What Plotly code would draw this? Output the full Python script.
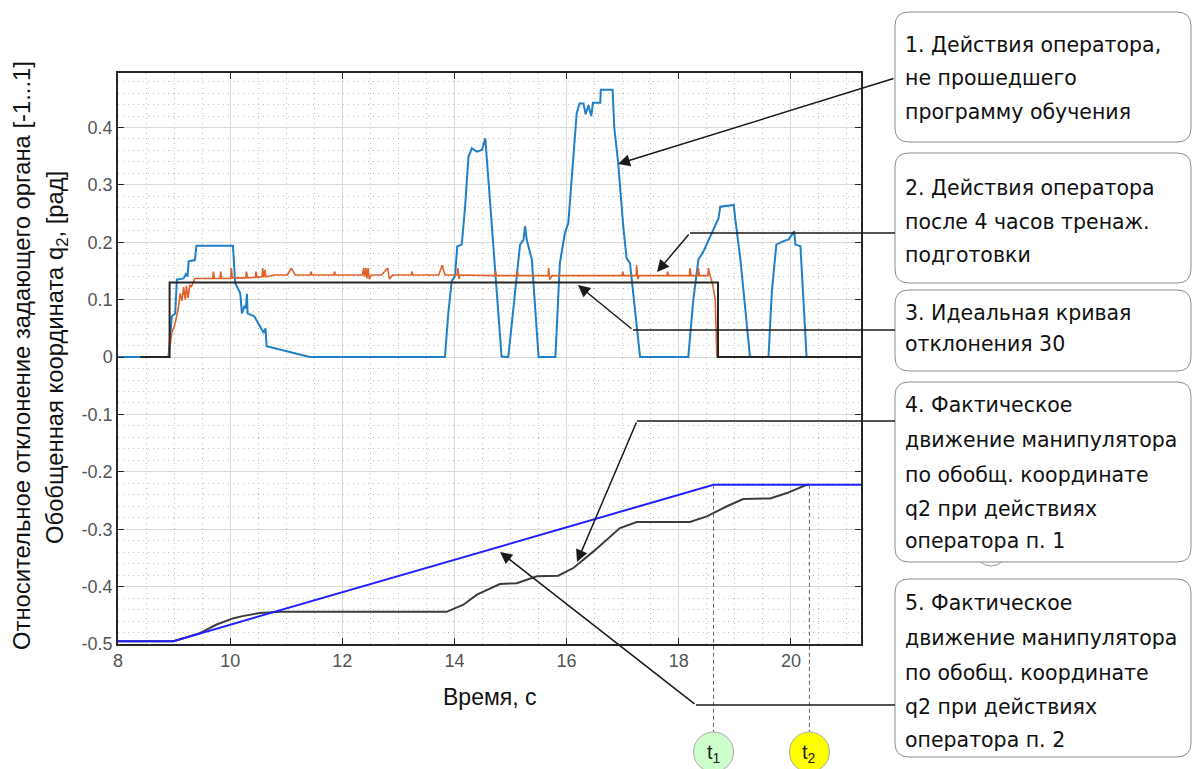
import plotly.graph_objects as go

# ---------------- data ----------------
# 1. operator without training (blue, upper)
t_op1 = [8.0, 8.90, 8.96, 9.02, 9.05, 9.17, 9.22, 9.24, 9.26, 9.37, 9.40, 10.05, 10.09, 10.18, 10.21,
         10.25, 10.28, 10.30, 10.31, 10.43, 10.60, 10.63, 10.65, 11.42, 13.83, 13.89, 13.95, 14.01,
         14.05, 14.13, 14.19, 14.25, 14.31, 14.40, 14.49, 14.55, 14.61, 14.70, 14.84, 14.96, 15.08,
         15.17, 15.23, 15.26, 15.29, 15.38, 15.50, 15.80, 15.88, 15.97, 16.03, 16.12, 16.18, 16.23,
         16.30, 16.34, 16.39, 16.44, 16.47, 16.60, 16.61, 16.82, 16.85, 16.92, 17.01, 17.07, 17.13,
         17.31, 18.17, 18.26, 18.35, 18.44, 18.62, 18.71, 18.74, 18.98, 19.01, 19.10, 19.27, 19.60,
         19.66, 19.74, 19.87, 19.96, 20.06, 20.08, 20.17, 20.28]
v_op1 = [0.0, 0.0, 0.071, 0.076, 0.135, 0.137, 0.146, 0.140, 0.167, 0.169, 0.194, 0.194, 0.129, 0.111, 0.076,
         0.088, 0.085, 0.110, 0.076, 0.071, 0.042, 0.050, 0.019, 0.0, 0.0, 0.076, 0.132, 0.141,
         0.193, 0.196, 0.262, 0.349, 0.364, 0.358, 0.361, 0.381, 0.303, 0.181, 0.001, 0.0, 0.117,
         0.196, 0.204, 0.228, 0.204, 0.170, 0.0, 0.0, 0.164, 0.216, 0.233, 0.355, 0.425, 0.442,
         0.442, 0.423, 0.439, 0.420, 0.443, 0.443, 0.466, 0.466, 0.400, 0.338, 0.228, 0.172, 0.164,
         0.0, 0.0, 0.100, 0.170, 0.184, 0.222, 0.242, 0.262, 0.265, 0.239, 0.170, 0.0, 0.0,
         0.114, 0.196, 0.202, 0.205, 0.219, 0.196, 0.193, 0.0]

# 2. operator after 4 hours of simulator training (orange)
t_op2 = [8.90, 8.96, 9.02, 9.08, 9.11, 9.14, 9.17, 9.20, 9.22, 9.25, 9.28, 9.31, 9.37, 9.69, 9.70, 9.72,
         9.82, 9.83, 9.85, 10.01, 10.02, 10.04, 10.28, 10.29, 10.31, 10.45, 10.46, 10.48, 10.57, 10.58,
         10.60, 10.62, 10.64, 10.80, 11.02, 11.09, 11.16, 11.43, 11.44, 11.46, 11.85, 11.86, 11.88,
         12.36, 12.38, 12.40, 12.42, 12.44, 12.46, 12.48, 12.52, 12.70, 12.81, 12.84, 12.90, 13.23,
         13.24, 13.26, 13.72, 13.78, 13.83, 14.05, 14.06, 14.08, 14.10, 14.72, 14.73, 14.75, 15.11,
         15.12, 15.14, 15.67, 15.68, 15.70, 15.74, 16.99, 17.00, 17.02, 17.24, 17.25, 17.27, 17.30,
         17.50, 17.79, 17.80, 17.82, 18.19, 18.20, 18.22, 18.34, 18.35, 18.37, 18.52, 18.53, 18.56,
         18.60, 18.65, 18.68, 18.72]
v_op2 = [0.0, 0.042, 0.059, 0.088, 0.111, 0.098, 0.122, 0.100, 0.124, 0.103, 0.125, 0.123, 0.137, 0.137, 0.149, 0.137,
         0.137, 0.149, 0.137, 0.137, 0.155, 0.138, 0.138, 0.149, 0.138, 0.139, 0.149, 0.139, 0.140, 0.155,
         0.139, 0.152, 0.140, 0.143, 0.143, 0.155, 0.143, 0.143, 0.149, 0.143, 0.143, 0.149, 0.143,
         0.143, 0.155, 0.140, 0.155, 0.137, 0.155, 0.136, 0.143, 0.143, 0.155, 0.136, 0.143, 0.143,
         0.149, 0.143, 0.143, 0.160, 0.143, 0.143, 0.155, 0.136, 0.143, 0.142, 0.149, 0.142, 0.142,
         0.149, 0.142, 0.142, 0.155, 0.135, 0.142, 0.142, 0.149, 0.142, 0.142, 0.160, 0.136, 0.142,
         0.142, 0.142, 0.149, 0.142, 0.142, 0.155, 0.142, 0.142, 0.155, 0.142, 0.142, 0.155, 0.141,
         0.129, 0.100, 0.0, 0.0]

# 3. ideal deflection curve (black step)
t_ideal = [8.40, 8.92, 8.92, 18.70, 18.70, 21.25]
v_ideal = [0.0, 0.0, 0.13, 0.13, 0.0, 0.0]

# 4. actual manipulator motion, operator 1 (dark grey)
t_q1 = [8.0, 8.99, 9.46, 9.76, 10.06, 10.24, 10.53, 10.89, 13.86, 14.16, 14.40, 14.64, 14.81, 15.11,
        15.47, 15.85, 16.12, 16.48, 16.95, 17.25, 18.20, 18.50, 18.86, 19.15, 19.63, 19.93, 20.28, 20.32]
v_q1 = [-0.495, -0.495, -0.481, -0.466, -0.455, -0.451, -0.446, -0.444, -0.444, -0.4315, -0.414, -0.4025,
        -0.3955, -0.394, -0.382, -0.381, -0.3676, -0.3386, -0.298, -0.2875, -0.2875, -0.2777, -0.260,
        -0.2474, -0.2463, -0.237, -0.2225, -0.2225]

# 5. actual manipulator motion, operator 2 (blue straight line)
t_q2 = [8.0, 8.99, 18.62, 21.25]
v_q2 = [-0.495, -0.495, -0.2225, -0.2225]

t_marks = [18.62, 20.33]
mark_labels = ["t<sub>1</sub>", "t<sub>2</sub>"]
mark_colors = ["#ccffcc", "#ffff00"]

x_ticks = [8, 10, 12, 14, 16, 18, 20]
x_ticklabels = ["8", "10", "12", "14", "16", "18", "20"]
y_ticks = [-0.5, -0.4, -0.3, -0.2, -0.1, 0, 0.1, 0.2, 0.3, 0.4]
y_ticklabels = ["-0.5", "-0.4", "-0.3", "-0.2", "-0.1", "0", "0.1", "0.2", "0.3", "0.4"]

box_texts = [
    ["1. Действия оператора,", "не прошедшего", "программу обучения"],
    ["2. Действия оператора", "после 4 часов тренаж.", "подготовки"],
    ["3. Идеальная кривая", "отклонения 30"],
    ["4. Фактическое", "движение манипулятора", "по обобщ. координате", "q2 при действиях", "оператора п. 1"],
    ["5. Фактическое", "движение манипулятора", "по обобщ. координате", "q2 при действиях", "оператора п. 2"],
]

# ---------------- layout geometry (pixels) ----------------
W_FIG, H_FIG = 1192, 769
PL, PR, PT, PB = 118, 861, 73, 644
X_RANGE = [8, 21.25]
Y_RANGE = [-0.5, 0.495]


def px(x):
    return (x - PL) / (PR - PL)


def py(y):
    return (PB - y) / (PB - PT)


def xdata_to_paper(t):
    return (t - X_RANGE[0]) / (X_RANGE[1] - X_RANGE[0])


def ydata_to_paper(v):
    return (v - Y_RANGE[0]) / (Y_RANGE[1] - Y_RANGE[0])


fig = go.Figure()
fig.add_trace(go.Scatter(x=t_q1, y=v_q1, mode="lines", line=dict(color="#3c3c3c", width=2), hoverinfo="skip"))
fig.add_trace(go.Scatter(x=t_q2, y=v_q2, mode="lines", line=dict(color="#1f1fff", width=2), hoverinfo="skip"))
fig.add_trace(go.Scatter(x=t_op1, y=v_op1, mode="lines", line=dict(color="#1f80c8", width=2), hoverinfo="skip"))
fig.add_trace(go.Scatter(x=t_op2, y=v_op2, mode="lines", line=dict(color="#e0622a", width=1.6), hoverinfo="skip"))
fig.add_trace(go.Scatter(x=t_ideal, y=v_ideal, mode="lines", line=dict(color="#262626", width=2), hoverinfo="skip"))

shapes = []
annotations = []

# dashed verticals for t1, t2 and circles
for t, lab, col in zip(t_marks, mark_labels, mark_colors):
    xp = xdata_to_paper(t)
    shapes.append(dict(type="line", xref="paper", yref="paper", x0=xp, x1=xp,
                       y0=ydata_to_paper(-0.2225), y1=py(732),
                       line=dict(color="#666666", width=1, dash="4px,3px")))
    xc = PL + xp * (PR - PL)
    shapes.append(dict(type="circle", xref="paper", yref="paper",
                       x0=px(xc - 20), x1=px(xc + 20), y0=py(772), y1=py(732),
                       fillcolor=col, line=dict(color="#aaaaaa", width=1)))
    annotations.append(dict(xref="paper", yref="paper", x=px(xc), y=py(753), text=lab, showarrow=False,
                            font=dict(family="Liberation Sans, Arial", size=20, color="#222222"),
                            xanchor="center", yanchor="middle"))

# small hidden circle under box 4
shapes.append(dict(type="circle", xref="paper", yref="paper",
                   x0=px(975), x1=px(1007), y0=py(566), y1=py(534),
                   fillcolor="white", line=dict(color="#999999", width=1)))


def rounded_box(x0, y0, x1, y1, r=14):
    pts = [
        ("M", x0 + r, y0), ("L", x1 - r, y0), ("Q", x1, y0, x1, y0 + r), ("L", x1, y1 - r),
        ("Q", x1, y1, x1 - r, y1), ("L", x0 + r, y1), ("Q", x0, y1, x0, y1 - r), ("L", x0, y0 + r),
        ("Q", x0, y0, x0 + r, y0),
    ]
    s = ""
    for p in pts:
        if p[0] == "Q":
            s += "Q %f,%f %f,%f " % (px(p[1]), py(p[2]), px(p[3]), py(p[4]))
        else:
            s += "%s %f,%f " % (p[0], px(p[1]), py(p[2]))
    return s + "Z"


box_geom = [(12, 142), (153, 283), (290, 371), (382, 562), (579, 757)]
line_ys = [[45, 78, 112], [188, 222, 255], [313, 344], [405, 440, 475, 509, 541], [603, 638, 673, 707, 740]]

for (y0, y1), texts, ys in zip(box_geom, box_texts, line_ys):
    shapes.append(dict(type="path", xref="paper", yref="paper", path=rounded_box(895, y0, 1191, y1),
                       fillcolor="white", line=dict(color="#8c8c8c", width=1)))
    for txt, yy in zip(texts, ys):
        annotations.append(dict(xref="paper", yref="paper", x=px(903), y=py(yy), text=txt, showarrow=False,
                                xanchor="left", yanchor="middle",
                                font=dict(family="DejaVu Sans", size=20.5, color="#111111")))

# connector polylines (pixel coords), last point is arrow tip
connectors = [
    [(895, 78), (618, 164)],
    [(895, 233), (690, 233), (657, 272)],
    [(895, 330), (633, 330), (578, 285)],
    [(895, 421), (637, 421), (577, 562)],
    [(895, 705), (696, 705), (500, 552)],
]
for pts in connectors:
    for (xa, ya), (xb, yb) in zip(pts[:-2], pts[1:-1]):
        shapes.append(dict(type="line", xref="paper", yref="paper", x0=px(xa), y0=py(ya), x1=px(xb), y1=py(yb),
                           line=dict(color="#1a1a1a", width=1.5)))
    (xa, ya), (xb, yb) = pts[-2], pts[-1]
    annotations.append(dict(xref="paper", yref="paper", x=px(xb), y=py(yb), ax=xa - xb, ay=ya - yb,
                            axref="pixel", ayref="pixel", text="", showarrow=True, arrowhead=2,
                            arrowsize=1.6, arrowwidth=1.5, arrowcolor="#1a1a1a", standoff=0))

# axis titles
annotations.append(dict(xref="paper", yref="paper", x=px(21), y=py(356), textangle=-90, showarrow=False,
                        text="Относительное отклонение задающего органа [-1...1]",
                        font=dict(family="Liberation Sans, Arial", size=23.8, color="#111111"),
                        xanchor="center", yanchor="middle"))
annotations.append(dict(xref="paper", yref="paper", x=px(56), y=py(358), textangle=-90, showarrow=False,
                        text="Обобщенная координата q<sub>2</sub>, [рад]",
                        font=dict(family="Liberation Sans, Arial", size=23.8, color="#111111"),
                        xanchor="center", yanchor="middle"))
annotations.append(dict(xref="paper", yref="paper", x=px(489), y=py(697), showarrow=False,
                        text="Время, с",
                        font=dict(family="Liberation Sans, Arial", size=23, color="#111111"),
                        xanchor="center", yanchor="middle"))

axis_common = dict(showline=True, linecolor="#262626", linewidth=1.5, mirror="ticks", ticks="inside",
                   ticklen=6, tickcolor="#262626", tickwidth=1, showgrid=True, gridcolor="#d9d9d9",
                   gridwidth=1, zeroline=False, automargin=False,
                   tickfont=dict(family="Liberation Sans, Arial", size=18, color="#555555"))

fig.update_layout(
    width=W_FIG, height=H_FIG, template="none",
    paper_bgcolor="white", plot_bgcolor="white",
    margin=dict(l=PL, r=W_FIG - PR, t=PT, b=H_FIG - PB, pad=0),
    showlegend=False, hovermode=False,
    shapes=shapes, annotations=annotations,
    xaxis=dict(range=X_RANGE, tickvals=x_ticks, ticktext=x_ticklabels,
               minor=dict(dtick=0.5, tick0=8, showgrid=True, gridcolor="#bdbdbd", griddash="1px,4px", gridwidth=1,
                          ticks=""),
               **axis_common),
    yaxis=dict(range=Y_RANGE, tickvals=y_ticks, ticktext=y_ticklabels,
               minor=dict(dtick=0.02, tick0=0, showgrid=True, gridcolor="#bdbdbd", griddash="1px,4px", gridwidth=1,
                          ticks=""),
               **axis_common),
)

fig.write_html("out.html", config={"displayModeBar": False},
               post_script="document.body.style.margin='0';document.body.style.overflow='hidden';")
